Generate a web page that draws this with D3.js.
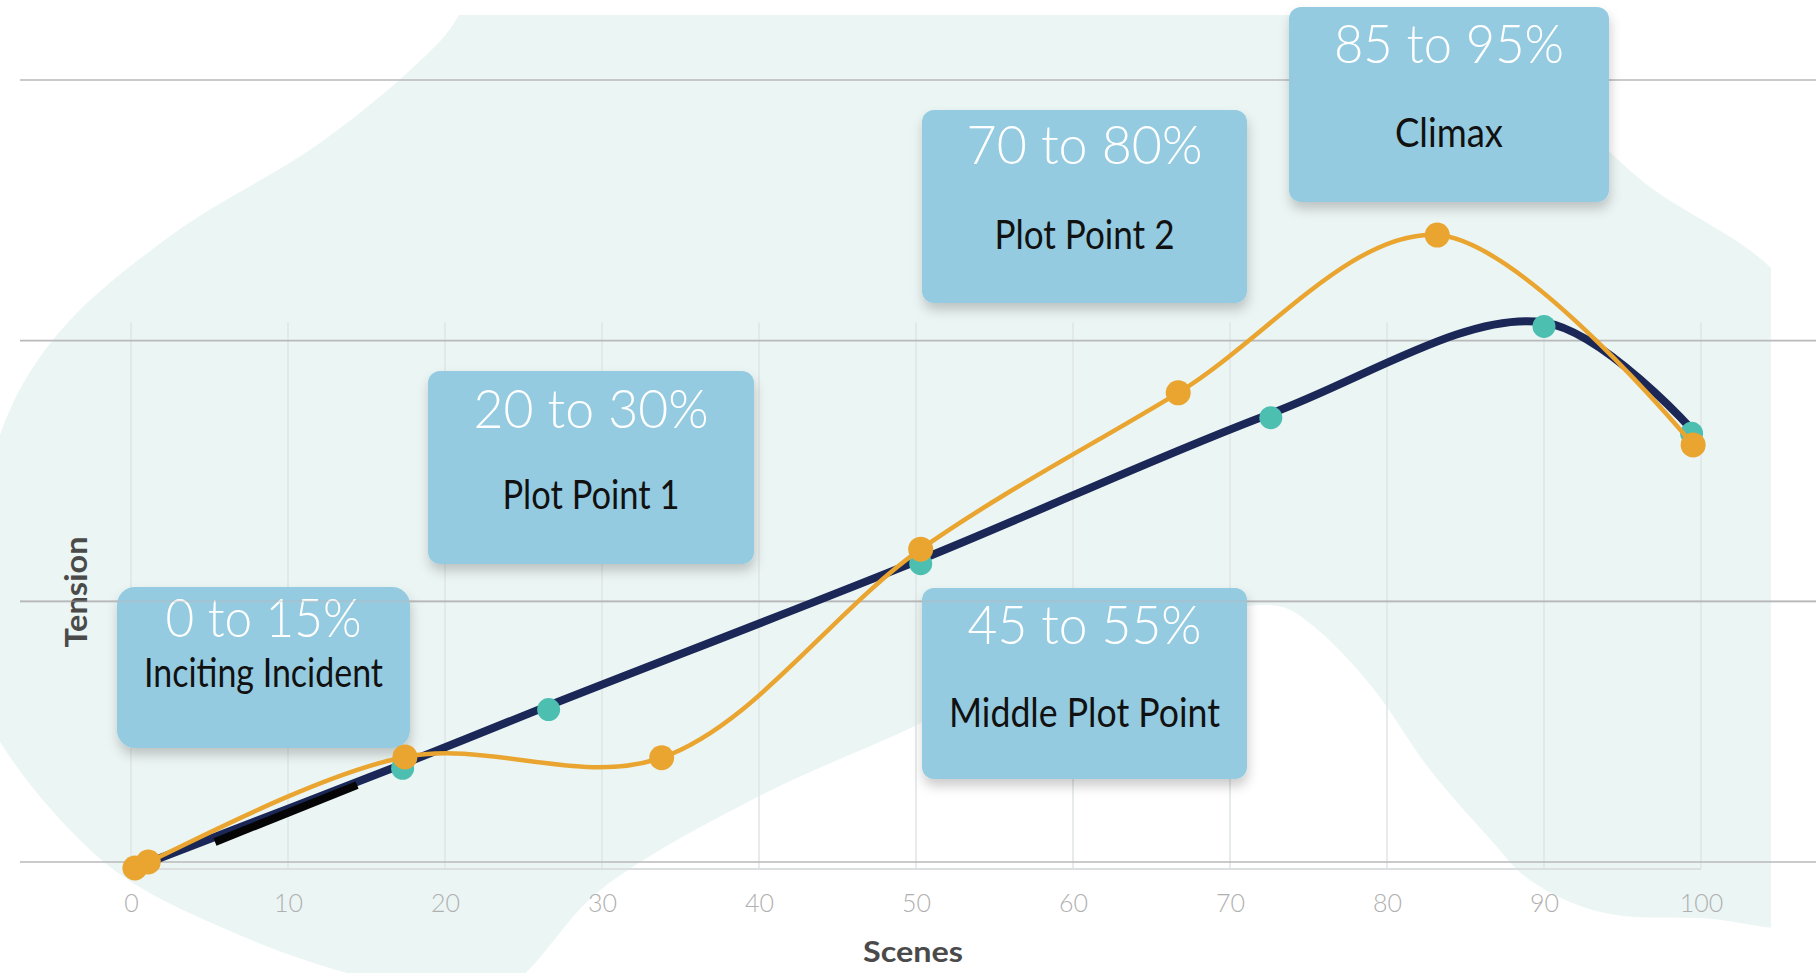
<!DOCTYPE html>
<html>
<head>
<meta charset="utf-8">
<script src="https://cdn.jsdelivr.net/npm/d3@7/dist/d3.min.js"></script>
<style>
  html, body { margin: 0; padding: 0; background: #ffffff; }
  svg { display: block; font-family: Lato, "Open Sans", sans-serif; }
</style>
</head>
<body>
<div id="chart"></div>
<script>
// Tick values
var xTicks = [0, 10, 20, 30, 40, 50, 60, 70, 80, 90, 100];
var yTicks = [0, 10, 20, 30];

// Navy series (scene, tension)
var navyScenes  = [1.2, 17.3, 26.6, 50.3, 72.6, 90.0, 99.4];
var navyTension = [0.0, 3.75, 6.0, 11.6, 17.2, 20.7, 16.6];

// Orange series (scene, tension)
var orangeScenes  = [0.25, 1.1, 17.45, 33.8, 50.3, 66.7, 83.2, 99.5];
var orangeTension = [-0.23, 0.0, 4.03, 4.0, 12.0, 18.0, 24.05, 16.0];

// Short dark stroke drawn over the navy line
var darkScenes  = [5.35, 14.4];
var darkTension = [0.77, 2.95];

// Annotation texts
var boxRanges = ["0 to 15%", "20 to 30%", "45 to 55%", "70 to 80%", "85 to 95%"];
var boxNames  = ["Inciting Incident", "Plot Point 1", "Middle Plot Point", "Plot Point 2", "Climax"];

// Background shape outline, in scene / tension units
var blobScenes  = [24.8, 74.5, 87.2, 96.1, 105.7, 108.9, 108.2, 99.9, 93.6, 89.1, 86.4, 82.7, 79.0, 75.3, 73.1, 68.1, 58.5, 49.8, 39.9, 29.9, 23.5, 17.1, 6.9, -2.6, -10.9, -8.3, -4.6, 2.7, 12.3, 19.7];
var blobTension = [35.4, 35.4, 31.1, 26.2, 21.9, 13.9, -2.03, -2.15, -1.92, -0.69, 1.0, 3.57, 6.75, 9.05, 9.82, 9.47, 7.75, 5.18, 2.49, -1.07, -4.91, -4.72, -2.8, 0.46, 8.13, 16.46, 20.3, 24.1, 27.7, 31.5];

// Layout of annotation boxes (pixels)
var boxLayout = [
  { x: 117,  y: 587, w: 293, h: 161, r: 18, t1: 50, t2: 100, w1: 196, w2: 239 },
  { x: 428,  y: 371, w: 326, h: 193, r: 12, t1: 57, t2: 138, w1: 235, w2: 177 },
  { x: 922,  y: 588, w: 325, h: 191, r: 12, t1: 56, t2: 139, w1: 234, w2: 271 },
  { x: 922,  y: 110, w: 325, h: 193, r: 12, t1: 54, t2: 139, w1: 236, w2: 180 },
  { x: 1289, y: 7,   w: 320, h: 195, r: 12, t1: 56, t2: 140, w1: 230, w2: 108 }
];

var W = 1816, H = 973;

var svg = d3.select("#chart").append("svg")
  .attr("width", W)
  .attr("height", H);

var x = d3.scaleLinear().domain([0, 100]).range([131, 1701]);
var y = d3.scaleLinear().domain([0, 30]).range([862, 80]);

var defs = svg.append("defs");
var shadow = defs.append("filter").attr("id", "shadow")
  .attr("x", "-20%").attr("y", "-20%").attr("width", "140%").attr("height", "150%");
shadow.append("feDropShadow")
  .attr("dx", 1).attr("dy", 7).attr("stdDeviation", 6)
  .attr("flood-color", "#000").attr("flood-opacity", 0.2);

defs.append("clipPath").attr("id", "blobClip")
  .append("rect").attr("x", 0).attr("y", 15).attr("width", 1771).attr("height", H);

// Background shape
var blobPts = blobScenes.map(function(s, i) { return [s, blobTension[i]]; });
svg.append("path")
  .attr("clip-path", "url(#blobClip)")
  .attr("d", d3.line()
    .x(function(d) { return x(d[0]); })
    .y(function(d) { return y(d[1]); })
    .curve(d3.curveCatmullRomClosed.alpha(0.5))(blobPts))
  .attr("fill", "#ebf5f4");

// Vertical grid lines
svg.append("g").selectAll("line")
  .data(xTicks)
  .enter().append("line")
  .attr("x1", function(d) { return x(d); })
  .attr("x2", function(d) { return x(d); })
  .attr("y1", y(20.7))
  .attr("y2", y(-0.27))
  .attr("stroke", "#dfe4e4")
  .attr("stroke-width", 1.5);

// Light baseline under the plot
svg.append("line")
  .attr("x1", x(0)).attr("x2", x(100))
  .attr("y1", y(-0.27)).attr("y2", y(-0.27))
  .attr("stroke", "#dcdfdf")
  .attr("stroke-width", 2);

// Horizontal grid lines
function hGrid(g, values, opacity) {
  g.selectAll("line")
    .data(values)
    .enter().append("line")
    .attr("x1", 20).attr("x2", W)
    .attr("y1", function(d) { return y(d); })
    .attr("y2", function(d) { return y(d); })
    .attr("stroke", "#b9b9b9")
    .attr("stroke-opacity", opacity)
    .attr("stroke-width", 1.6);
}
hGrid(svg.append("g"), yTicks, 1);

// X axis tick labels
var xAxis = svg.append("g")
  .attr("transform", "translate(0," + y(-0.27) + ")")
  .call(d3.axisBottom(x).tickValues(xTicks).tickSize(0).tickPadding(25));
xAxis.select(".domain").remove();
xAxis.selectAll("text")
  .attr("font-family", "Lato, sans-serif")
  .attr("font-weight", 300)
  .attr("font-size", 25)
  .attr("fill", "#b0b0b0");

// Axis titles
svg.append("text")
  .attr("x", 913).attr("y", 962)
  .attr("text-anchor", "middle")
  .attr("font-weight", 700)
  .attr("font-size", 29)
  .attr("fill", "#4a4a4a")
  .attr("textLength", 100)
  .attr("lengthAdjust", "spacingAndGlyphs")
  .text("Scenes");

svg.append("text")
  .attr("transform", "translate(87,592) rotate(-90)")
  .attr("text-anchor", "middle")
  .attr("font-weight", 700)
  .attr("font-size", 30)
  .attr("fill", "#4a4a4a")
  .attr("textLength", 111)
  .attr("lengthAdjust", "spacingAndGlyphs")
  .text("Tension");

// Annotation boxes
var boxes = svg.append("g").selectAll("g")
  .data(boxRanges)
  .enter().append("g")
  .attr("transform", function(d, i) { return "translate(" + boxLayout[i].x + "," + boxLayout[i].y + ")"; });

boxes.append("rect")
  .attr("width", function(d, i) { return boxLayout[i].w; })
  .attr("height", function(d, i) { return boxLayout[i].h; })
  .attr("rx", function(d, i) { return boxLayout[i].r; })
  .attr("fill", "#95cbe0")
  .attr("filter", "url(#shadow)");

boxes.append("text")
  .attr("x", function(d, i) { return boxLayout[i].w / 2; })
  .attr("y", function(d, i) { return boxLayout[i].t1; })
  .attr("text-anchor", "middle")
  .attr("font-weight", 300)
  .attr("font-size", 53)
  .attr("fill", "#ffffff")
  .attr("textLength", function(d, i) { return boxLayout[i].w1; })
  .attr("lengthAdjust", "spacingAndGlyphs")
  .text(function(d) { return d; });

boxes.append("text")
  .attr("x", function(d, i) { return boxLayout[i].w / 2; })
  .attr("y", function(d, i) { return boxLayout[i].t2; })
  .attr("text-anchor", "middle")
  .attr("font-weight", 400)
  .attr("font-size", 40)
  .attr("fill", "#111111")
  .attr("textLength", function(d, i) { return boxLayout[i].w2; })
  .attr("lengthAdjust", "spacingAndGlyphs")
  .text(function(d, i) { return boxNames[i]; });

// The middle grid line shows faintly through the lower boxes
hGrid(svg.append("g"), [10], 0.45);

// Lines
var line = d3.line()
  .x(function(d) { return x(d[0]); })
  .y(function(d) { return y(d[1]); })
  .curve(d3.curveCatmullRom.alpha(0.5));

var navyPts = navyScenes.map(function(s, i) { return [s, navyTension[i]]; });
var orangePts = orangeScenes.map(function(s, i) { return [s, orangeTension[i]]; });
var darkPts = darkScenes.map(function(s, i) { return [s, darkTension[i]]; });

svg.append("path")
  .attr("d", line(navyPts))
  .attr("fill", "none")
  .attr("stroke", "#1b2756")
  .attr("stroke-width", 8)
  .attr("stroke-linecap", "round");

svg.append("path")
  .attr("d", d3.line().x(function(d) { return x(d[0]); }).y(function(d) { return y(d[1]); })(darkPts))
  .attr("fill", "none")
  .attr("stroke", "#050505")
  .attr("stroke-width", 8);

svg.append("g").selectAll("circle")
  .data(navyPts.slice(1))
  .enter().append("circle")
  .attr("cx", function(d) { return x(d[0]); })
  .attr("cy", function(d) { return y(d[1]) + 4; })
  .attr("r", 11.5)
  .attr("fill", "#4cbfb1");

svg.append("path")
  .attr("d", line(orangePts))
  .attr("fill", "none")
  .attr("stroke", "#e9a530")
  .attr("stroke-width", 4.5)
  .attr("stroke-linecap", "round");

svg.append("g").selectAll("circle")
  .data(orangePts)
  .enter().append("circle")
  .attr("cx", function(d) { return x(d[0]); })
  .attr("cy", function(d) { return y(d[1]); })
  .attr("r", 12.5)
  .attr("fill", "#e9a530");
</script>
</body>
</html>
